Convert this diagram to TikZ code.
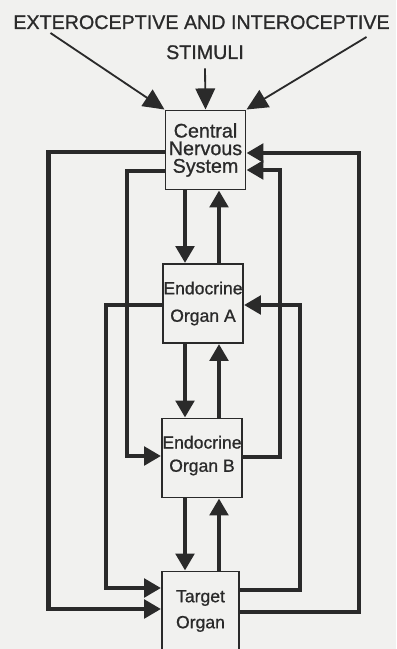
\documentclass[tikz,border=0pt]{standalone}
\usepackage{fontspec}
\setmainfont{Liberation Sans}[FakeBold=0.9]
\usetikzlibrary{arrows.meta,calc}
\definecolor{ink}{HTML}{2A2A2A}
\definecolor{paper}{HTML}{F1F1EF}

\begin{document}
\begin{tikzpicture}[
  x=0.025cm, y=-0.025cm,
  organ/.style={rectangle,draw=ink,line width=1.4pt,fill=paper,minimum width=2cm,minimum height=1.975cm,inner sep=0pt,align=center,text=ink},
  caps/.style={font=\fontsize{14}{16}\selectfont,text=ink,inner sep=0pt,anchor=base},
  link/.style={draw=ink,line width=3.2pt,-{Triangle[length=12pt,width=13pt]}},
  sense/.style={draw=ink,line width=1.3pt,-{Triangle[length=15pt,width=14pt]}}]

\fill[paper] (0,0) rectangle (396,649);
\useasboundingbox (0,0) rectangle (396,649);

\node[caps] (ext)     at (201.5,29) {EXTEROCEPTIVE AND INTEROCEPTIVE};
\node[caps] (stimuli) at (205,59) {STIMULI};

\node[organ,font=\fontsize{14}{12.5}\selectfont] (cns) at (205.5,150) {Central\\Nervous\\System};
\node[organ,font=\fontsize{12.5}{19.5}\selectfont] (enda) at (203,303.5) {Endocrine\\Organ A};
\node[organ,font=\fontsize{12.5}{16.5}\selectfont,text depth=6pt] (endb) at (202,458) {Endocrine\\Organ B};
\node[organ,font=\fontsize{12.5}{18.5}\selectfont,minimum width=1.925cm] (target) at (200.5,611) {Target\\Organ};

% stimuli into the CNS
\draw[sense] ($(ext.base)+(-151,4)$) -- (cns.north west);
\draw[sense] ($(stimuli.south)+(0,9)$) -- (cns.north);
\draw[sense] ($(ext.base)+(165,8)$) -- (cns.north east);

% the chain down the middle
\coordinate (down) at (185,0);
\coordinate (up)   at (219,0);
\draw[link] (cns.south -| down) -- (enda.north -| down);
\draw[link] (enda.north -| up) -- (cns.south -| up);
\draw[link] (enda.south -| down) -- (endb.north -| down);
\draw[link] (endb.north -| up) -- (enda.south -| up);
\draw[link] (endb.south -| down) -- (target.north -| down);
\draw[link] (target.north -| up) -- (endb.south -| up);

% feed forward, left
\draw[link] ($(cns.west)+(0,2)$) -- ++(-116,0) |- ($(target.west)+(0,-2)$);
\draw[link] ($(cns.west)+(0,21)$) -- ++(-37.5,0) |- ($(endb.west)+(0,-2)$);
\draw[link] ($(enda.west)+(0,1.5)$) -- ++(-56,0) |- ($(target.west)+(0,-23)$);

% feedback, right
\draw[link] ($(target.east)+(0,1)$) -- ++(119,0) |- ($(cns.east)+(0,3)$);
\draw[link] ($(endb.east)+(0,-1)$) -- ++(37,0) |- ($(cns.east)+(0,20)$);
\draw[link] ($(target.east)+(0,-21)$) -- ++(60,0) |- ($(enda.east)+(0,1.5)$);
\end{tikzpicture}
\end{document}
